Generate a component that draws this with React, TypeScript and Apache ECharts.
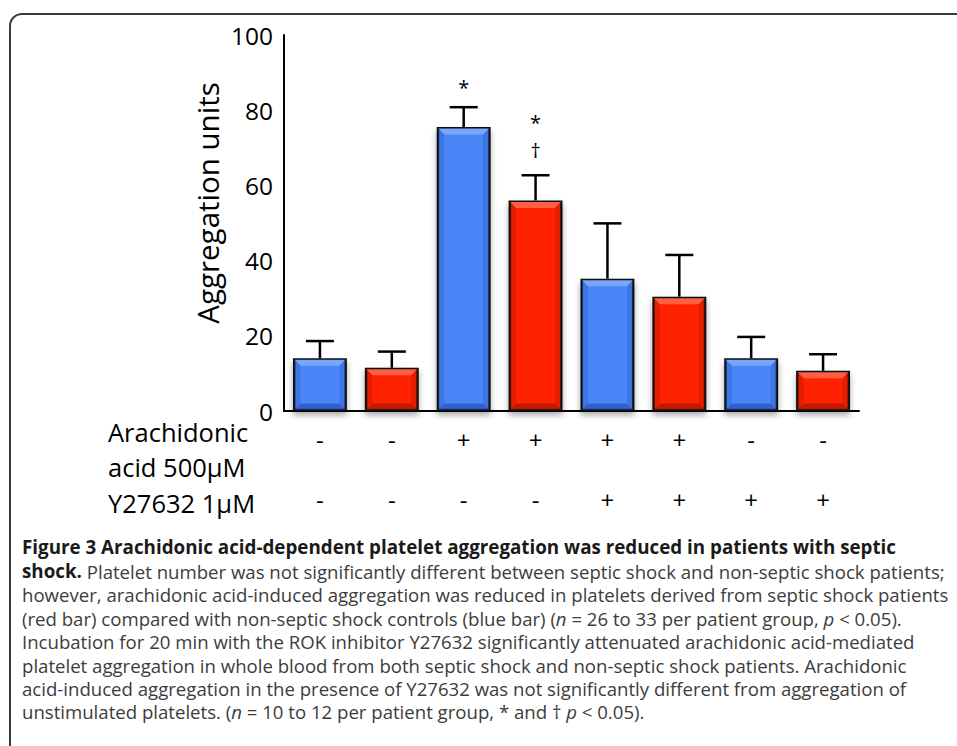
import React, { useEffect, useRef } from 'react';
import * as echarts from 'echarts';

// ---- data ----
const groups = ['1', '2', '3', '4', '5', '6', '7', '8'];
const patientGroup = ['control', 'septic', 'control', 'septic', 'control', 'septic', 'control', 'septic'];
const means = [14.0, 11.5, 75.5, 56.0, 35.2, 30.4, 14.0, 10.7];
const upperErrors = [18.6, 15.8, 80.8, 62.7, 49.9, 41.5, 19.7, 15.1];
const significance = [[], [], ['*'], ['†', '*'], [], [], [], []];
const arachidonic = ['-', '-', '+', '+', '+', '+', '-', '-'];
const y27632 = ['-', '-', '-', '-', '+', '+', '+', '+'];
const rowLabels = ['Arachidonic', 'acid 500µM', 'Y27632 1µM'];
const yAxisTitle = 'Aggregation units';

const captionLines = [
  '{b|Figure 3 Arachidonic acid-dependent platelet aggregation was reduced in patients with septic}',
  '{b|shock.}{r| Platelet number was not significantly different between septic shock and non-septic shock patients;}',
  '{r|however, arachidonic acid-induced aggregation was reduced in platelets derived from septic shock patients}',
  '{r|(red bar) compared with non-septic shock controls (blue bar) (}{i|n}{r| = 26 to 33 per patient group, }{i|p}{r| < 0.05).}',
  '{r|Incubation for 20 min with the ROK inhibitor Y27632 significantly attenuated arachidonic acid-mediated}',
  '{r|platelet aggregation in whole blood from both septic shock and non-septic shock patients. Arachidonic}',
  '{r|acid-induced aggregation in the presence of Y27632 was not significantly different from aggregation of}',
  '{r|unstimulated platelets. (}{i|n}{r| = 10 to 12 per patient group, * and † }{i|p}{r| < 0.05).}',
];

const palette: Record<string, { base: string; light: string; dark: string }> = {
  control: { base: '#4a87f8', light: '#78a6fb', dark: '#2a5cc4' },
  septic: { base: '#ff2200', light: '#ff6044', dark: '#b81800' },
};

const FONT = '"Open Sans"';
const CAP_FONT = '"Open Sans"';

export default function App() {
  const ref = useRef<HTMLDivElement>(null);
  useEffect(() => {
    if (!ref.current) return;
    const chart = echarts.init(ref.current, undefined, { renderer: 'svg' });

    const CS = 18.6;
    const LH = 21;
    const captionStyle = {
      b: { fontFamily: CAP_FONT, fontWeight: 'bold', fontSize: 18.8, fill: '#1a1a1a', lineHeight: LH },
      r: { fontFamily: CAP_FONT, fontSize: CS, fill: '#3c3c3c', lineHeight: LH },
      i: { fontFamily: CAP_FONT, fontStyle: 'italic', fontSize: CS, fill: '#3c3c3c', lineHeight: LH },
    };

    const graphics: any[] = [
      {
        type: 'rect',
        shape: { x: 10, y: 14, width: 1200, height: 1000, r: 12 },
        style: { fill: 'none', stroke: '#3a3a3a', lineWidth: 2 },
        silent: true,
      },
      {
        type: 'text',
        x: 207,
        y: 203,
        rotation: Math.PI / 2,
        style: {
          text: yAxisTitle,
          fontFamily: FONT,
          fontSize: 29.5,
          fill: '#000',
          align: 'center',
          verticalAlign: 'middle',
        },
      },
      ...rowLabels.map((t, k) => ({
        type: 'text',
        x: 108,
        y: [432, 467, 503][k],
        style: { text: t, fontFamily: FONT, fontSize: 25.5, lineHeight: 30, fill: '#000', align: 'left', verticalAlign: 'middle' },
      })),
      ...captionLines.map((t, k) => ({
        type: 'text',
        x: 22,
        y: (k === 0 ? 547 : 548) + k * 23.4,
        style: { text: t, rich: captionStyle, align: 'left', verticalAlign: 'middle', fontSize: CS, lineHeight: LH },
      })),
    ];

    const signLabel = {
      fontFamily: FONT,
      fontSize: 24,
      color: '#000',
      margin: 16,
    };

    chart.setOption({
      animation: false,
      backgroundColor: '#fff',
      grid: { left: 284, right: 98, top: 35, bottom: 335, containLabel: false },
      xAxis: [
        {
          type: 'category',
          data: groups,
          position: 'bottom',
          axisLine: { show: true, lineStyle: { color: '#000', width: 2 } },
          axisTick: { show: false },
          axisLabel: { ...signLabel, formatter: (_v: string, i: number) => arachidonic[i] },
        },
        {
          type: 'category',
          data: groups,
          position: 'bottom',
          offset: 60,
          axisLine: { show: false },
          axisTick: { show: false },
          axisLabel: { ...signLabel, formatter: (_v: string, i: number) => y27632[i] },
        },
      ],
      yAxis: {
        type: 'value',
        min: 0,
        max: 100,
        interval: 20,
        axisLine: { show: true, lineStyle: { color: '#000', width: 2 } },
        axisTick: { show: false },
        splitLine: { show: false },
        axisLabel: { fontFamily: FONT, fontSize: 24.5, color: '#000', margin: 11, padding: [8, 0, 0, 0] },
      },
      series: [
        {
          type: 'bar',
          xAxisIndex: 0,
          barWidth: '75%',
          data: means.map((v, i) => ({
            value: v,
            itemStyle: { color: palette[patientGroup[i]].base },
          })),
          itemStyle: {
            borderColor: '#111',
            borderWidth: 2.5,
            shadowColor: 'rgba(0,0,0,0.35)',
            shadowBlur: 6,
            shadowOffsetY: 4,
          },
          z: 2,
        },
        {
          type: 'custom',
          xAxisIndex: 0,
          z: 3,
          silent: true,
          encode: { x: 0, y: 1 },
          data: means.map((v, i) => [i, v]),
          renderItem: (params: any, api: any) => {
            const i = api.value(0);
            const v = api.value(1);
            const top = api.coord([i, v]);
            const bot = api.coord([i, 0]);
            const w = api.size([1, 0])[0] * 0.75;
            const pal = palette[patientGroup[i]];
            const x0 = top[0] - w / 2 + 1.5;
            const x1 = top[0] + w / 2 - 1.5;
            const y0 = top[1] + 1.5;
            const y1 = bot[1] - 1.5;
            const b = 6;
            return {
              type: 'group',
              children: [
                { type: 'polygon', shape: { points: [[x0, y0], [x1, y0], [x1 - b, y0 + b], [x0 + b, y0 + b]] }, style: { fill: pal.light, stroke: 'none' } },
                { type: 'polygon', shape: { points: [[x0, y0], [x0 + b, y0 + b], [x0 + b, y1 - b], [x0, y1]] }, style: { fill: pal.dark, opacity: 0.4, stroke: 'none' } },
                { type: 'polygon', shape: { points: [[x1, y0], [x1 - b, y0 + b], [x1 - b, y1 - b], [x1, y1]] }, style: { fill: pal.dark, opacity: 0.4, stroke: 'none' } },
                { type: 'polygon', shape: { points: [[x0, y1], [x0 + b, y1 - b], [x1 - b, y1 - b], [x1, y1]] }, style: { fill: pal.dark, opacity: 0.85, stroke: 'none' } },
              ],
            };
          },
        },
        {
          type: 'custom',
          xAxisIndex: 0,
          z: 4,
          silent: true,
          encode: { x: 0, y: [1, 2] },
          data: means.map((v, i) => [i, v, upperErrors[i]]),
          renderItem: (params: any, api: any) => {
            const i = api.value(0);
            const base = api.coord([i, api.value(1)]);
            const top = api.coord([i, api.value(2)]);
            const cap = 14;
            const children: any[] = [
              { type: 'line', shape: { x1: base[0], y1: base[1], x2: top[0], y2: top[1] }, style: { stroke: '#000', lineWidth: 2.5 } },
              { type: 'line', shape: { x1: top[0] - cap, y1: top[1], x2: top[0] + cap, y2: top[1] }, style: { stroke: '#000', lineWidth: 2.5 } },
            ];
            significance[i].forEach((s, k) => {
              const star = s === '*';
              children.push({
                type: 'text',
                x: top[0],
                y: top[1] - (star ? (k === 0 ? 20 : 53) : 25),
                style: { text: s, fontFamily: FONT, fontSize: 20, lineHeight: 20, fill: '#000', align: 'center', verticalAlign: 'middle' },
              });
            });
            return { type: 'group', children };
          },
        },
      ],
      graphic: graphics,
    });

    return () => chart.dispose();
  }, []);

  return <div ref={ref} style={{ position: 'fixed', left: 0, top: 0, width: 957, height: 746 }} />;
}
